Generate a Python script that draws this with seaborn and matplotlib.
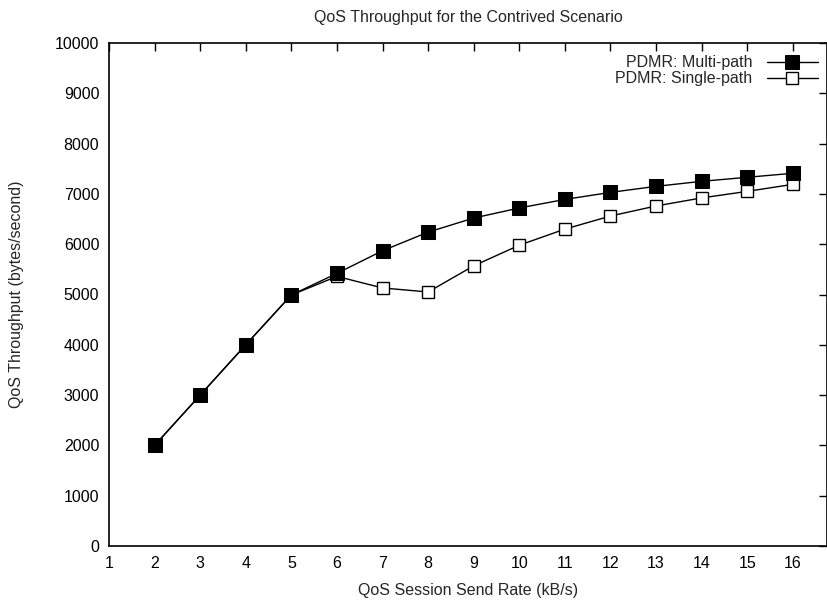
import matplotlib
matplotlib.use("Agg")
import matplotlib.pyplot as plt
import seaborn as sns
import pandas as pd

send_rate = [2, 3, 4, 5, 6, 7, 8, 9, 10, 11, 12, 13, 14, 15, 16]
multi_path = [2000, 3000, 4000, 4990, 5420, 5870, 6240, 6520, 6720, 6890, 7030, 7150, 7250, 7330, 7410]
single_path = [2000, 3000, 4000, 4990, 5360, 5130, 5050, 5570, 5980, 6300, 6560, 6760, 6920, 7050, 7190]
x_ticks = list(range(1, 17))
y_ticks = list(range(0, 10001, 1000))

sns.set_theme(style="white")
plt.rcParams['font.family'] = ['Liberation Sans', 'DejaVu Sans']

FS = 11.5
fig = plt.figure(figsize=(8.28, 6.03), dpi=100)
ax = fig.add_axes([109/828, 1 - 546/603, (827 - 109)/828, (546 - 43)/603])

df_m = pd.DataFrame({"x": send_rate, "y": multi_path})
df_s = pd.DataFrame({"x": send_rate, "y": single_path})

sns.lineplot(data=df_m, x="x", y="y", ax=ax, color="black", lw=1.0,
             marker="s", markersize=9.5, markerfacecolor="black",
             markeredgecolor="black", label="PDMR: Multi-path", zorder=3)
sns.lineplot(data=df_s, x="x", y="y", ax=ax, color="black", lw=1.0,
             marker="s", markersize=8.5, markerfacecolor="white",
             markeredgecolor="black", markeredgewidth=1.0,
             label="PDMR: Single-path", zorder=2)

ax.set_xlim(1, 16.75)
ax.set_ylim(0, 10000)
ax.set_xticks(x_ticks)
ax.set_yticks(y_ticks)
ax.tick_params(direction="in", length=6, width=1, top=True, right=True,
               labelsize=FS, colors="black", pad=7)
for s in ax.spines.values():
    s.set_color("black")
    s.set_linewidth(1.2)

ax.set_title("QoS Throughput for the Contrived Scenario", fontsize=FS, pad=15)
ax.set_xlabel("QoS Session Send Rate (kB/s)", fontsize=FS, labelpad=9)
ax.set_ylabel("QoS Throughput (bytes/second)", fontsize=FS, labelpad=22)

leg = ax.legend(loc="upper right", bbox_to_anchor=(1.003, 0.998), frameon=False,
                markerfirst=False, fontsize=FS, handlelength=3.2,
                borderaxespad=0.3, labelspacing=0.08, handletextpad=0.9)
for t in leg.get_texts():
    t.set_ha("right")

fig.savefig("out.png", dpi=100)
